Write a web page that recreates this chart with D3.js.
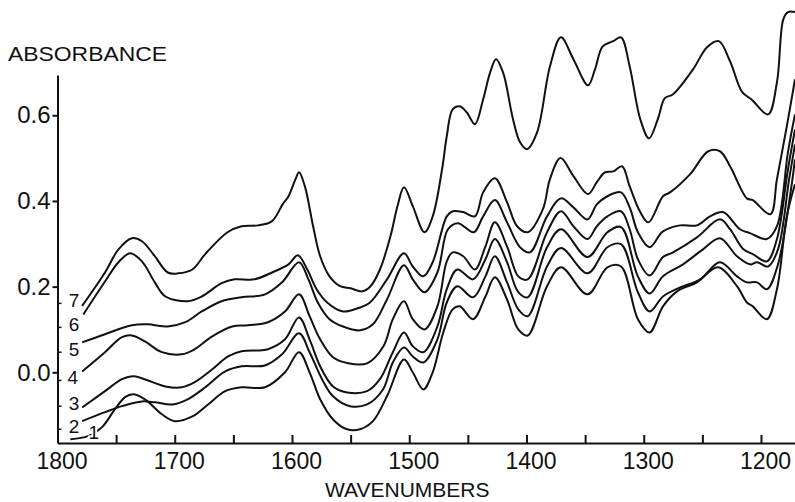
<!DOCTYPE html>
<html lang="en">
<head>
  <meta charset="UTF-8">
  <title>Absorbance spectra 1800-1200 cm-1</title>
  <script src="https://d3js.org/d3.v7.min.js"></script>
  <style>
    body {
      margin: 0;
      background: #fff;
      font-family: "Liberation Sans", Arial, sans-serif;
    }
    .spectrum {
      fill: none;
      stroke: #111;
      stroke-width: 2;
      stroke-linejoin: round;
    }
    .axis path,
    .axis line {
      stroke: #111;
      stroke-width: 2;
    }
    .axis text {
      font-size: 23px;
      fill: #111;
      font-family: "Liberation Sans", Arial, sans-serif;
    }
    .axis-title {
      font-size: 21px;
      fill: #111;
    }
    .curve-label {
      font-size: 19px;
      fill: #111;
    }
  </style>
</head>
<body>
  <div id="chart"></div>
  <script>
    // wavenumber ticks and labels
    const minorTicks = [1750, 1700, 1650, 1600, 1550, 1500, 1450, 1400, 1350, 1300, 1250, 1200];
    const xLabels = [1800, 1700, 1600, 1500, 1400, 1300, 1200];
    const yLabels = [0.0, 0.2, 0.4, 0.6];

    // spectrum 7 (top)
    const wn7 = [1779, 1759.5, 1748, 1736.5, 1728, 1717, 1706, 1697, 1685, 1674, 1655, 1643, 1629, 1617, 1608, 1603, 1597, 1594, 1589, 1582, 1576, 1568, 1559, 1550, 1540, 1533, 1525, 1516, 1510, 1504.5, 1497, 1487, 1480, 1472, 1468, 1463, 1457, 1451, 1444, 1437, 1431, 1426, 1420, 1411.5, 1405.5, 1399.5, 1391, 1380, 1370.6, 1360, 1347.5, 1341.6, 1335, 1326, 1319.4, 1312, 1303, 1295.5, 1288, 1282, 1275, 1258, 1246, 1236, 1226.4, 1216, 1208, 1194, 1186.4, 1181, 1177, 1171];
    const abs7 = [0.155, 0.233, 0.287, 0.313, 0.306, 0.271, 0.233, 0.231, 0.240, 0.276, 0.327, 0.341, 0.343, 0.353, 0.392, 0.411, 0.451, 0.467, 0.434, 0.341, 0.271, 0.224, 0.201, 0.196, 0.189, 0.201, 0.240, 0.318, 0.388, 0.432, 0.388, 0.327, 0.364, 0.474, 0.551, 0.614, 0.621, 0.607, 0.579, 0.637, 0.700, 0.731, 0.700, 0.591, 0.537, 0.521, 0.560, 0.714, 0.782, 0.731, 0.670, 0.707, 0.761, 0.773, 0.782, 0.714, 0.591, 0.546, 0.591, 0.640, 0.649, 0.707, 0.759, 0.773, 0.726, 0.654, 0.637, 0.602, 0.677, 0.824, 0.841, 0.841];

    // spectrum 6
    const wn6 = [1778, 1759.5, 1748, 1738, 1728, 1717, 1708, 1689, 1677, 1660, 1649, 1632, 1617, 1603, 1595, 1587, 1579, 1570, 1556.5, 1544.5, 1533.5, 1519, 1504.5, 1497, 1488, 1480, 1468, 1463, 1454, 1444, 1437, 1427, 1416.6, 1408, 1399, 1386, 1380, 1371, 1360, 1347.5, 1340, 1333, 1326, 1318.5, 1312, 1303, 1296, 1283.6, 1277.6, 1260.6, 1245, 1235, 1226.4, 1212, 1207, 1192, 1186.4, 1178, 1171];
    const abs6 = [0.135, 0.212, 0.257, 0.278, 0.259, 0.210, 0.177, 0.166, 0.177, 0.208, 0.217, 0.217, 0.233, 0.252, 0.273, 0.240, 0.194, 0.163, 0.142, 0.149, 0.163, 0.217, 0.278, 0.247, 0.224, 0.257, 0.364, 0.376, 0.374, 0.364, 0.420, 0.453, 0.397, 0.341, 0.327, 0.381, 0.451, 0.500, 0.458, 0.416, 0.444, 0.467, 0.469, 0.481, 0.434, 0.374, 0.350, 0.411, 0.420, 0.462, 0.516, 0.516, 0.481, 0.406, 0.402, 0.369, 0.451, 0.574, 0.684];

    // spectrum 5
    const wn5 = [1779, 1759.5, 1736.5, 1723, 1706, 1691, 1677, 1660, 1643, 1623, 1608.5, 1594, 1586, 1578, 1568, 1556.5, 1542, 1531, 1519, 1504.5, 1497, 1487, 1476, 1467, 1458.5, 1445, 1437, 1427, 1416.6, 1405.5, 1397, 1382.5, 1370.6, 1360, 1348, 1340, 1331, 1319.4, 1312, 1305, 1295, 1283.6, 1269, 1254.6, 1243.5, 1232.4, 1218, 1209.4, 1195, 1186.4, 1177, 1171];
    const abs5 = [0.070, 0.089, 0.110, 0.112, 0.107, 0.117, 0.142, 0.166, 0.175, 0.182, 0.210, 0.257, 0.217, 0.163, 0.124, 0.107, 0.098, 0.112, 0.170, 0.250, 0.217, 0.187, 0.233, 0.334, 0.348, 0.327, 0.364, 0.402, 0.350, 0.292, 0.280, 0.364, 0.406, 0.385, 0.357, 0.392, 0.411, 0.420, 0.385, 0.327, 0.292, 0.329, 0.343, 0.343, 0.364, 0.374, 0.334, 0.325, 0.311, 0.341, 0.514, 0.602];

    // spectrum 4
    const wn4 = [1779, 1759.5, 1745, 1736.5, 1725.4, 1711, 1694, 1683, 1668, 1651, 1637.5, 1620.5, 1606, 1594, 1585, 1576, 1565, 1552, 1536, 1522, 1514, 1504.5, 1497, 1487, 1476, 1468, 1463, 1454, 1444, 1435, 1427, 1416.6, 1407, 1399, 1382.5, 1370.6, 1360, 1348, 1340, 1331, 1319.4, 1312, 1305, 1295, 1283.6, 1275, 1254.6, 1235, 1226.4, 1215, 1207, 1195, 1186.4, 1177, 1171];
    const abs4 = [0.002, 0.047, 0.082, 0.086, 0.072, 0.047, 0.042, 0.054, 0.084, 0.107, 0.110, 0.117, 0.142, 0.182, 0.131, 0.077, 0.035, 0.021, 0.021, 0.061, 0.124, 0.166, 0.124, 0.100, 0.154, 0.259, 0.280, 0.271, 0.240, 0.294, 0.350, 0.294, 0.224, 0.217, 0.327, 0.376, 0.341, 0.311, 0.341, 0.364, 0.376, 0.334, 0.264, 0.226, 0.269, 0.280, 0.315, 0.357, 0.334, 0.287, 0.276, 0.259, 0.311, 0.474, 0.567];

    // spectrum 3
    const wn3 = [1779, 1759.5, 1745, 1735, 1719, 1708, 1694, 1683, 1668, 1654.6, 1643, 1620.5, 1606, 1594, 1585, 1576, 1565, 1553, 1536, 1525, 1514, 1504.5, 1497, 1488, 1476, 1468, 1459, 1445.6, 1435, 1427, 1416.6, 1407, 1399, 1382.5, 1370.6, 1348, 1331, 1319.4, 1305, 1295, 1283.6, 1266.5, 1249.5, 1235, 1220.5, 1209.4, 1203.4, 1194, 1185.5, 1176, 1171];
    const abs3 = [-0.082, -0.044, -0.016, -0.009, -0.023, -0.033, -0.035, -0.023, 0.007, 0.037, 0.049, 0.054, 0.077, 0.128, 0.077, 0.014, -0.033, -0.047, -0.044, -0.016, 0.047, 0.093, 0.061, 0.047, 0.107, 0.194, 0.240, 0.217, 0.264, 0.311, 0.257, 0.187, 0.175, 0.292, 0.334, 0.269, 0.327, 0.339, 0.224, 0.184, 0.224, 0.252, 0.287, 0.313, 0.271, 0.252, 0.257, 0.247, 0.287, 0.451, 0.532];

    // spectrum 2
    const wn2 = [1779, 1759.5, 1745, 1728, 1717, 1702, 1689, 1674, 1657, 1643, 1623, 1608.5, 1594, 1585, 1574.4, 1565, 1550.5, 1536, 1522.4, 1514, 1504.5, 1497, 1488, 1476, 1468, 1459, 1445.6, 1435, 1427, 1416.6, 1407, 1399, 1382.5, 1370.6, 1348, 1331, 1319.4, 1305, 1295, 1283.6, 1269, 1252, 1235, 1220.5, 1212, 1203.4, 1195, 1185.5, 1175, 1171];
    const abs2 = [-0.114, -0.093, -0.079, -0.068, -0.070, -0.075, -0.063, -0.035, 0.002, 0.014, 0.016, 0.042, 0.091, 0.047, -0.016, -0.056, -0.079, -0.075, -0.040, 0.023, 0.058, 0.037, 0.023, 0.077, 0.163, 0.201, 0.175, 0.224, 0.271, 0.210, 0.147, 0.131, 0.247, 0.290, 0.231, 0.292, 0.299, 0.187, 0.142, 0.177, 0.198, 0.217, 0.257, 0.224, 0.210, 0.210, 0.194, 0.252, 0.416, 0.497];

    // spectrum 1 (bottom)
    const wn1 = [1789, 1774, 1762, 1751, 1742.4, 1735.6, 1725.4, 1711, 1700, 1685, 1671.6, 1657, 1643, 1623, 1606, 1594, 1585, 1576, 1565, 1553, 1542, 1531, 1519, 1504.5, 1497, 1488, 1480, 1471, 1463, 1457, 1445.6, 1435, 1427, 1416.6, 1407, 1399, 1382.5, 1370.6, 1348, 1331, 1319.4, 1305, 1295, 1283.6, 1271.6, 1254.6, 1236.7, 1220.5, 1212, 1207, 1195, 1186.4, 1178, 1171];
    const abs1 = [-0.156, -0.149, -0.128, -0.086, -0.058, -0.051, -0.063, -0.098, -0.114, -0.103, -0.075, -0.044, -0.035, -0.035, 0.000, 0.047, 0.000, -0.063, -0.110, -0.133, -0.133, -0.114, -0.056, 0.030, 0.000, -0.040, 0.000, 0.093, 0.147, 0.154, 0.124, 0.177, 0.222, 0.170, 0.100, 0.086, 0.201, 0.245, 0.182, 0.245, 0.247, 0.124, 0.093, 0.154, 0.189, 0.210, 0.245, 0.201, 0.163, 0.154, 0.124, 0.194, 0.364, 0.439];

    // curve numbers written at the left end
    const curveNames = ["7", "6", "5", "4", "3", "2", "1"];
    const nameWn = [1786, 1786, 1786, 1787, 1786, 1786, 1769];
    const nameAbs = [0.168, 0.112, 0.054, -0.012, -0.072, -0.126, -0.140];

    const spectra = [
      { wn: wn7, abs: abs7 },
      { wn: wn6, abs: abs6 },
      { wn: wn5, abs: abs5 },
      { wn: wn4, abs: abs4 },
      { wn: wn3, abs: abs3 },
      { wn: wn2, abs: abs2 },
      { wn: wn1, abs: abs1 }
    ];

    const svgWidth = 795;
    const svgHeight = 502;
    const margin = { top: 75, right: 0, bottom: 59, left: 57.5 };
    const width = svgWidth - margin.left - margin.right;
    const height = svgHeight - margin.top - margin.bottom;

    const xScale = d3.scaleLinear()
      .domain([1800, 1171])
      .range([0, width]);

    const yScale = d3.scaleLinear()
      .domain([-0.165, 0.694])
      .range([height, 0]);

    const line = d3.line()
      .x(d => xScale(d[0]))
      .y(d => yScale(d[1]))
      .curve(d3.curveCatmullRom.alpha(0.5));

    const svg = d3.select("#chart").append("svg")
      .attr("width", svgWidth)
      .attr("height", svgHeight)
      .append("g")
      .attr("transform", `translate(${margin.left},${margin.top})`);

    // x axis: small inward ticks every 50, labels every 100
    svg.append("g")
      .attr("class", "axis")
      .attr("transform", `translate(0,${height})`)
      .call(d3.axisBottom(xScale).tickValues(minorTicks).tickSize(-8).tickSizeOuter(0).tickFormat(""));

    const xLab = svg.append("g")
      .attr("class", "axis")
      .attr("transform", `translate(0,${height})`)
      .call(d3.axisBottom(xScale).tickValues(xLabels).tickSize(0).tickPadding(10).tickFormat(d3.format("d")));
    xLab.select(".domain").remove();
    xLab.selectAll("text").attr("dx", 4);

    // y axis
    const yAx = svg.append("g")
      .attr("class", "axis")
      .call(d3.axisLeft(yScale).tickValues(yLabels).tickSize(5).tickSizeOuter(0).tickPadding(2).tickFormat(d3.format(".1f")));
    yAx.selectAll("text").style("font-size", "24px");

    spectra.forEach(s => {
      svg.append("path")
        .datum(d3.zip(s.wn, s.abs))
        .attr("class", "spectrum")
        .attr("d", line);
    });

    // curve numbers, with a small dash on the axis
    svg.selectAll(".curve-dash")
      .data(curveNames.slice(0, 6))
      .enter()
      .append("line")
      .attr("class", "curve-dash")
      .attr("x1", 0)
      .attr("x2", 4)
      .attr("y1", (d, i) => yScale(nameAbs[i]) + 3)
      .attr("y2", (d, i) => yScale(nameAbs[i]) + 3)
      .attr("stroke", "#111")
      .attr("stroke-width", 1.5);

    svg.selectAll(".curve-label")
      .data(curveNames)
      .enter()
      .append("text")
      .attr("class", "curve-label")
      .attr("x", (d, i) => xScale(nameWn[i]))
      .attr("y", (d, i) => yScale(nameAbs[i]))
      .attr("dy", "0.36em")
      .attr("text-anchor", "middle")
      .attr("stroke", "#fff")
      .attr("stroke-width", 4)
      .attr("paint-order", "stroke")
      .text(d => d);

    // axis titles
    svg.append("text")
      .attr("class", "axis-title")
      .attr("x", -margin.left + 8)
      .attr("y", -margin.top + 61)
      .attr("textLength", 159)
      .attr("lengthAdjust", "spacingAndGlyphs")
      .text("ABSORBANCE");

    svg.append("text")
      .attr("class", "axis-title")
      .attr("x", xScale(1500) - 2)
      .attr("y", height + 54)
      .attr("text-anchor", "middle")
      .text("WAVENUMBERS");
  </script>
</body>
</html>
